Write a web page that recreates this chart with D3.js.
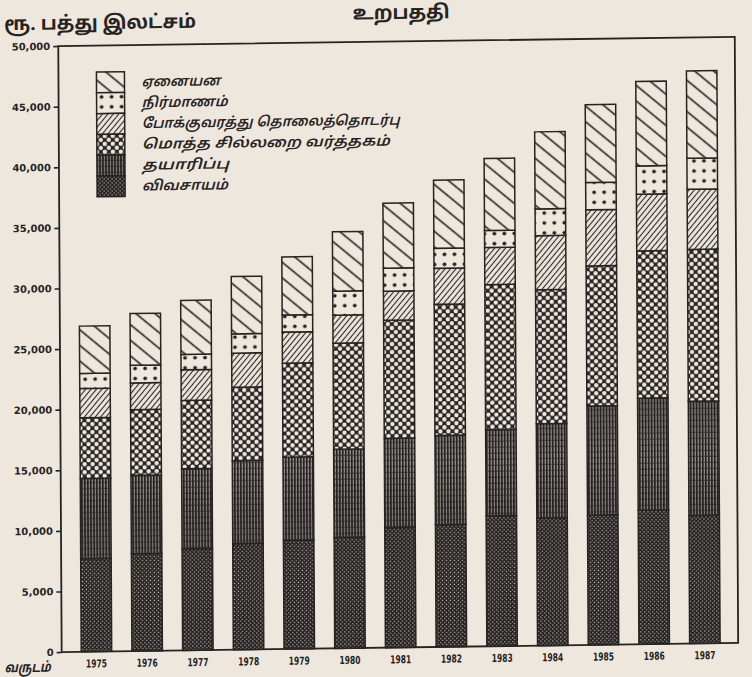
<!DOCTYPE html>
<html><head><meta charset="utf-8">
<script src="https://cdn.jsdelivr.net/npm/d3@7"></script>
<style>
html,body{margin:0;padding:0;background:#eee7de;}
svg{display:block;}
</style>
</head><body>
<svg id="chart" width="752" height="677"></svg>
<script>
// ---- data (ரூ. பத்து இலட்சம்) ----
const years = ["1975","1976","1977","1978","1979","1980","1981","1982","1983","1984","1985","1986","1987"];
const agriculture   = [7680, 8030, 8370, 8770, 8970, 9150, 9910, 10090, 10760, 10530, 10710, 11050, 10570];
const manufacturing = [6610, 6470, 6610, 6830, 6860, 7270, 7350, 7360, 7110, 7770, 9000, 9250, 9420];
const trade         = [5010, 5420, 5640, 6060, 7760, 8760, 9750, 10820, 11970, 11060, 11560, 12150, 12530];
const transport     = [2420, 2210, 2530, 2810, 2560, 2310, 2400, 2970, 3060, 4460, 4630, 4680, 4960];
const construction  = [1240, 1450, 1270, 1590, 1410, 1980, 1900, 1650, 1400, 2210, 2250, 2340, 2560];
const others        = [3910, 4270, 4460, 4730, 4790, 4900, 5360, 5620, 5950, 6360, 6420, 6960, 7210];
const seriesKeys   = ["agriculture","manufacturing","trade","transport","construction","others"];
const seriesLabels = ["விவசாயம்","தயாரிப்பு","மொத்த சில்லறை வர்த்தகம்","போக்குவரத்து தொலைத்தொடர்பு","நிர்மாணம்","ஏனையன"];
const yTicks = [0,5000,10000,15000,20000,25000,30000,35000,40000,45000,50000];
const titleText = "உறபததி";
const yTitleText = "ரூ. பத்து இலட்சம்";
const xTitleText = "வருடம்";

const seriesValues = {agriculture, manufacturing, trade, transport, construction, others};
const rows = years.map((y,i)=>{const r={year:y}; seriesKeys.forEach(k=>r[k]=seriesValues[k][i]); return r;});

const INK = "#262322", PAPER = "#eee7de";
const tamilFont = "'Noto Sans Tamil','Lohit Tamil','Noto Sans','DejaVu Sans',sans-serif";

const svg = d3.select("#chart");
svg.append("rect").attr("width",752).attr("height",677).attr("fill",PAPER);
const defs = svg.append("defs");

function pat(id,w,h,bg,transform){
  const p = defs.append("pattern").attr("id",id).attr("patternUnits","userSpaceOnUse")
    .attr("width",w).attr("height",h);
  if(transform) p.attr("patternTransform",transform);
  p.append("rect").attr("width",w).attr("height",h).attr("fill",bg);
  return p;
}
// others: sparse "\" lines
pat("p-others",12,12,PAPER,"rotate(40)").append("line")
  .attr("x1",0).attr("x2",12).attr("y1",6).attr("y2",6).attr("stroke",INK).attr("stroke-width",1.6);
// construction: dots
pat("p-construction",10,10,PAPER).append("circle").attr("cx",5).attr("cy",5).attr("r",1.9).attr("fill",INK);
// transport: dense "/" lines
pat("p-transport",4.2,4.2,PAPER,"rotate(-50)").append("line")
  .attr("x1",0).attr("x2",4.2).attr("y1",2.1).attr("y2",2.1).attr("stroke",INK).attr("stroke-width",1.1);
// trade: dark lattice with round holes
{ const p = pat("p-trade",8,8,INK);
  [[0,0],[8,0],[0,8],[8,8],[4,4]].forEach(([cx,cy])=>p.append("circle").attr("cx",cx).attr("cy",cy).attr("r",2.2).attr("fill",PAPER)); }
// manufacturing: dark with fine vertical light lines
{ const p = pat("p-manufacturing",3,6,INK);
  p.append("rect").attr("x",1.2).attr("y",0).attr("width",0.9).attr("height",6).attr("fill",PAPER).attr("opacity",0.7);
  p.append("rect").attr("x",1.2).attr("y",4).attr("width",0.9).attr("height",1).attr("fill",INK); }
// agriculture: very dark fine dots
{ const p = pat("p-agriculture",4,4,INK);
  p.append("rect").attr("x",0.6).attr("y",0.6).attr("width",1.1).attr("height",1.1).attr("fill",PAPER).attr("opacity",0.85);
  p.append("rect").attr("x",2.6).attr("y",2.6).attr("width",1.1).attr("height",1.1).attr("fill",PAPER).attr("opacity",0.85); }

// slight scan skew of the original page
const g = svg.append("g").attr("transform","matrix(1,-0.0135,0.0056,1,-1.96,5.37)");

const y = d3.scaleLinear().domain([0,50000]).range([647.5,41.5]);
const x = d3.scaleBand().domain(years).range([61,737]).paddingInner(0.399).paddingOuter(0.366);

// frame
g.append("rect").attr("x",60).attr("y",y(50000)).attr("width",736.5-60).attr("height",y(0)-y(50000))
  .attr("fill","none").attr("stroke",INK).attr("stroke-width",1.8);

// y axis
const yAxis = g.append("g").attr("transform","translate(60,0)")
  .call(d3.axisLeft(y).tickValues(yTicks).tickFormat(d3.format(",")).tickSize(5).tickPadding(3));
yAxis.select(".domain").remove();
yAxis.selectAll(".tick line").attr("stroke",INK).attr("stroke-width",1.6);
yAxis.selectAll(".tick text").attr("fill",INK).style("font-family","'DejaVu Sans',sans-serif")
  .style("font-weight","bold").style("font-size","10px");

// x axis labels
const xAxis = g.append("g").attr("transform",`translate(0,${y(0)})`)
  .call(d3.axisBottom(x).tickSize(0).tickPadding(8));
xAxis.select(".domain").remove();
xAxis.selectAll(".tick text").attr("fill",INK).style("font-family","'DejaVu Sans',sans-serif")
  .style("font-weight","bold").style("font-size","11px")
  .attr("textLength",21).attr("lengthAdjust","spacingAndGlyphs");

// stacked bars
const stack = d3.stack().keys(seriesKeys)(rows);
const layers = g.append("g").selectAll("g").data(stack).join("g")
  .attr("fill",d=>`url(#p-${d.key})`);
layers.selectAll("rect").data(d=>d).join("rect")
  .attr("x",d=>x(d.data.year)).attr("width",x.bandwidth())
  .attr("y",d=>y(d[1])).attr("height",d=>y(d[0])-y(d[1]))
  .attr("stroke",INK).attr("stroke-width",1.5);

// legend
const legendWidths = {others:79, construction:86, transport:258, trade:248, manufacturing:87, agriculture:86};
const lg = g.append("g").attr("transform","translate(98,68)");
const legendKeys = seriesKeys.slice().reverse();
legendKeys.forEach((k,i)=>{
  lg.append("rect").attr("x",0).attr("y",i*20.8).attr("width",28).attr("height",20.8)
    .attr("fill",`url(#p-${k})`).attr("stroke",INK).attr("stroke-width",1.5);
  lg.append("text").attr("x",45).attr("y",i*20.8+15)
    .attr("fill",INK).style("font-family",tamilFont).style("font-size","14px")
    .style("font-style","italic").style("font-weight","600")
    .attr("textLength",legendWidths[k]).attr("lengthAdjust","spacingAndGlyphs")
    .text(seriesLabels[seriesKeys.indexOf(k)]);
});

// titles
g.append("text").attr("x",403).attr("y",19).attr("text-anchor","middle")
  .attr("fill",INK).style("font-family",tamilFont).style("font-size","19px").style("font-weight","bold")
  .attr("textLength",97).attr("lengthAdjust","spacingAndGlyphs").text(titleText);
g.append("text").attr("x",6).attr("y",25)
  .attr("fill",INK).style("font-family",tamilFont).style("font-size","19px").style("font-weight","bold")
  .attr("textLength",192).attr("lengthAdjust","spacingAndGlyphs").text(yTitleText);
g.append("text").attr("x",3).attr("y",667)
  .attr("fill",INK).style("font-family",tamilFont).style("font-size","14px")
  .style("font-style","italic").style("font-weight","bold")
  .attr("textLength",46).attr("lengthAdjust","spacingAndGlyphs").text(xTitleText);
</script>
</body></html>
